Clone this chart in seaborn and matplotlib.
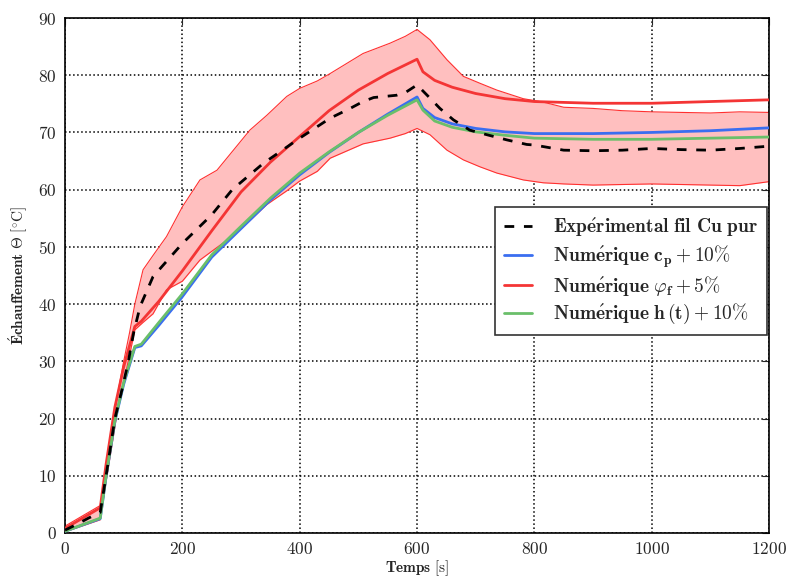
import pandas as pd
import matplotlib.pyplot as plt
import seaborn as sns

# --- data ---
t_exp = [0, 20, 40, 60, 70, 85, 97, 108, 117, 128, 150, 200, 250, 285, 338, 400, 452,
         486, 508, 526, 565, 582, 600, 622, 639, 662, 690, 719, 753, 787, 800, 850,
         900, 950, 1000, 1050, 1100, 1150, 1200]
theta_exp = [0.5, 1.5, 2.6, 3.6, 10.0, 20.0, 25.0, 30.0, 35.0, 39.6, 44.8, 50.6, 55.6,
             60.0, 64.6, 69.0, 72.5, 74.2, 75.4, 76.1, 76.5, 77.1, 78.3, 76.0, 74.2,
             72.2, 70.4, 69.6, 68.7, 67.9, 67.8, 66.9, 66.8, 66.9, 67.2, 67.0, 66.9,
             67.2, 67.6]

t_num = [0, 60, 70, 85, 100, 119, 130, 160, 200, 250, 300, 350, 400, 450, 500, 550,
         600, 610, 630, 660, 700, 750, 800, 900, 1000, 1100, 1200]
theta_cp = [0.3, 2.5, 9.8, 19.5, 26.0, 32.4, 32.7, 36.3, 41.3, 48.2, 53.2, 58.2, 62.6,
            66.5, 70.0, 73.2, 76.2, 74.2, 72.6, 71.5, 70.7, 70.1, 69.8, 69.8, 70.0,
            70.3, 70.8]
theta_phi = [0.8, 4.4, 12.0, 22.0, 29.0, 36.1, 37.0, 40.5, 45.8, 52.8, 59.6, 64.8, 69.3,
             73.8, 77.4, 80.3, 82.8, 80.6, 79.1, 77.9, 76.8, 75.9, 75.4, 75.1, 75.1,
             75.4, 75.7]
theta_h = [0.3, 2.6, 10.0, 19.7, 26.3, 32.6, 33.0, 36.8, 41.8, 48.6, 53.6, 58.5, 62.9,
           66.6, 70.0, 73.0, 75.7, 73.9, 72.0, 70.9, 70.1, 69.5, 69.0, 68.8, 68.8,
           69.0, 69.2]

t_band = [0, 60, 70, 85, 91, 100, 110, 119, 133, 150, 173, 200, 230, 259, 287, 315, 344,
          378, 400, 430, 452, 508, 554, 580, 600, 622, 651, 679, 707, 736, 781, 815,
          850, 900, 950, 1000, 1050, 1100, 1150, 1200]
band_high = [1.2, 4.8, 11.0, 21.0, 25.0, 30.0, 35.0, 40.0, 46.0, 48.5, 51.8, 57.0, 61.7,
             63.4, 66.9, 70.4, 73.0, 76.3, 77.7, 79.0, 80.3, 83.8, 85.6, 86.8, 88.0,
             86.2, 82.7, 79.8, 78.6, 77.4, 75.9, 75.3, 74.4, 74.2, 73.8, 73.6, 73.5,
             73.4, 73.6, 73.5]
band_low = [0.2, 2.3, 9.0, 18.5, 22.5, 26.5, 31.0, 35.5, 36.8, 38.3, 42.5, 44.0, 47.7,
            49.9, 52.0, 54.6, 57.4, 59.8, 61.5, 63.2, 65.5, 68.0, 69.0, 69.8, 70.7,
            69.6, 66.9, 65.2, 64.0, 62.9, 61.7, 61.2, 61.0, 60.8, 60.9, 61.0, 60.9,
            60.8, 60.7, 61.4]

# labels written fully in mathtext so the Computer Modern fonts are used throughout
labels = [r"$\mathbf{Exp\acute{e}rimental\ fil\ Cu\ pur}$",
          r"$\mathbf{Num\acute{e}rique}\ \mathbf{c_p}+\mathbf{10\%}$",
          r"$\mathbf{Num\acute{e}rique}\ \varphi_{\mathbf{f}}+\mathbf{5\%}$",
          r"$\mathbf{Num\acute{e}rique}\ \mathbf{h}\,(\mathbf{t})+\mathbf{10\%}$"]
xlabel = r"$\mathbf{Temps}\ [\mathrm{s}]$"
ylabel = r"$\mathbf{\acute{E}chauffement}\ \mathbf{\Theta}\ [^{\circ}\mathrm{C}]$"

sns.set_style("white")
plt.rcParams['font.family'] = ['cmr10', 'DejaVu Serif']
plt.rcParams['mathtext.fontset'] = 'cm'
plt.rcParams['axes.formatter.use_mathtext'] = True

fig = plt.figure(figsize=(7.88, 5.77), dpi=100)
ax = fig.add_axes([0.0825, 0.0763, 0.8935, 0.8925])

ax.fill_between(t_band, band_low, band_high, color='#ffbfbf', lw=0, zorder=1)
ax.plot(t_band, band_low, color='#ff3030', lw=0.8, zorder=2)
ax.plot(t_band, band_high, color='#ff3030', lw=0.8, zorder=2)

exp_df = pd.DataFrame({'t': t_exp, 'theta': theta_exp})
num_df = pd.DataFrame({'t': t_num, 'cp': theta_cp, 'phi': theta_phi, 'h': theta_h})

sns.lineplot(data=exp_df, x='t', y='theta', ax=ax, color='black', lw=2,
             linestyle=(0, (3.5, 3.5)), label=labels[0], zorder=5)
sns.lineplot(data=num_df, x='t', y='cp', ax=ax, color='#3a6ef0', lw=2,
             label=labels[1], zorder=4)
sns.lineplot(data=num_df, x='t', y='phi', ax=ax, color='#f43535', lw=2,
             label=labels[2], zorder=4)
sns.lineplot(data=num_df, x='t', y='h', ax=ax, color='#6abf6a', lw=2,
             label=labels[3], zorder=4)

ax.set_xlim(0, 1200)
ax.set_ylim(0, 90)
ax.set_xticks(range(0, 1201, 200))
ax.set_yticks(range(0, 91, 10))
ax.grid(True, color='black', linestyle=':', lw=1.1)
ax.tick_params(direction='in', top=True, right=True, length=5, labelsize=12.5, pad=6)
for s in ax.spines.values():
    s.set_color('black')
    s.set_linewidth(1.2)

ax.set_xlabel(xlabel, fontsize=11, labelpad=1)
ax.set_ylabel(ylabel, fontsize=11, labelpad=6)

leg = ax.legend(loc='lower right', bbox_to_anchor=(0.997, 0.384), frameon=True,
                fancybox=False, edgecolor='#333333', framealpha=1,
                prop={'size': 14}, handlelength=1.45, handletextpad=1.1,
                borderaxespad=0, labelspacing=0.22, borderpad=0.45)
leg.get_frame().set_linewidth(1.2)

fig.savefig("out.png", dpi=100)
